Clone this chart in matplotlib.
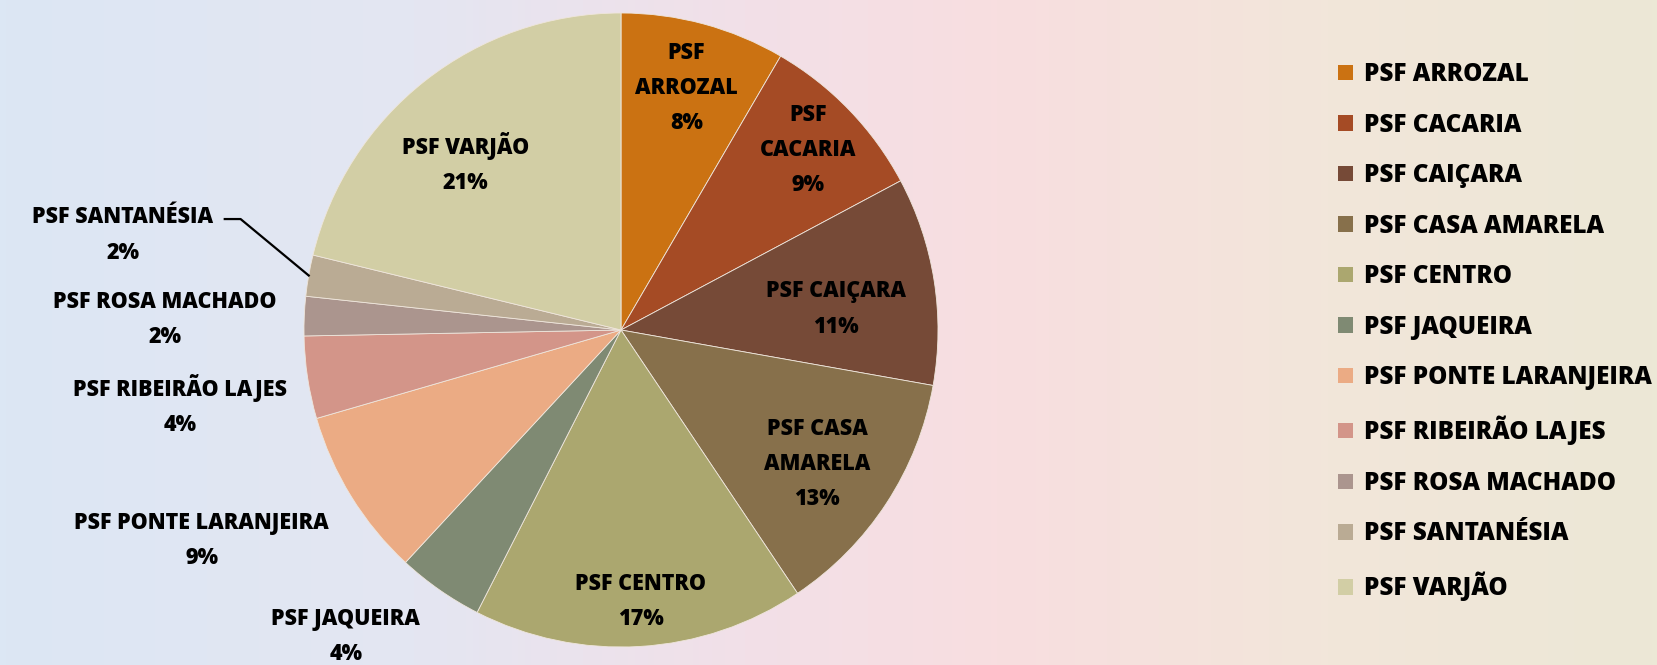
import matplotlib.pyplot as plt
import numpy as np
from matplotlib.colors import LinearSegmentedColormap
from matplotlib.patches import Patch

plt.rcParams['font.family'] = ['Open Sans', 'DejaVu Sans']

# data
units = ["PSF ARROZAL", "PSF CACARIA", "PSF CAIÇARA", "PSF CASA AMARELA", "PSF CENTRO",
         "PSF JAQUEIRA", "PSF PONTE LARANJEIRA", "PSF RIBEIRÃO LAJES", "PSF ROSA MACHADO",
         "PSF SANTANÉSIA", "PSF VARJÃO"]
shares = [8.4, 8.8, 10.6, 12.8, 16.9, 4.4, 8.6, 4.2, 2.0, 2.1, 21.2]
slice_labels = ["PSF\nARROZAL", "PSF\nCACARIA", "PSF CAIÇARA", "PSF CASA\nAMARELA", "PSF CENTRO",
                "PSF JAQUEIRA", "PSF PONTE LARANJEIRA", "PSF RIBEIRÃO LAJES", "PSF ROSA MACHADO",
                "PSF SANTANÉSIA", "PSF VARJÃO"]
colors = ["#CB7212", "#A54B25", "#764A37", "#87704B", "#ABA76F", "#7F8A73",
          "#EBAB84", "#D39589", "#AB958E", "#BAAB94", "#D2CEA5"]
# label placement: distance from centre (radii) and angle nudge (deg, clockwise)
label_r = [0.79, 0.82, 0.68, 0.75, 0.86, 1.30, 1.48, 1.41, 1.44, 1.6, 0.72]
label_nudge = [0, 0, 3.4, 1.2, -0.7, 7.0, 5.0, -1.1, -1.2, 0.9, -4.9]

W, H = 1658, 665
R = 317.0
cx, cy = 621.0, 330.0

fig = plt.figure(figsize=(W / 100, H / 100), dpi=100)
ax = fig.add_axes([0, 0, 1, 1])

# soft washed-out background
bg = LinearSegmentedColormap.from_list("bg", [(0.0, "#DCE7F4"), (0.25, "#E4E6F2"),
                                             (0.45, "#F2E0E8"), (0.6, "#F8DEE0"),
                                             (0.8, "#F2E6DA"), (1.0, "#ECE8D6")])
grad = np.linspace(0, 1, 256)[None, :]
ax.imshow(grad, cmap=bg, extent=[-cx / R, (W - cx) / R, -(H - cy) / R, cy / R],
          aspect='auto', zorder=0)

wedges, _ = ax.pie(shares, colors=colors, startangle=90, counterclock=False,
                   radius=1.0, center=(0, 0), frame=True,
                   wedgeprops=dict(edgecolor="#EFE6DC", linewidth=0.6, zorder=2))
ax.set_xlim(-cx / R, (W - cx) / R)
ax.set_ylim(-(H - cy) / R, cy / R)
ax.set_aspect('auto')
ax.axis('off')

total = sum(shares)
for w, lab, v, r, nd in zip(wedges, slice_labels, shares, label_r, label_nudge):
    mid = np.deg2rad((w.theta1 + w.theta2) / 2 - nd)
    x, y = r * np.cos(mid), r * np.sin(mid)
    ax.text(x, y, f"{lab}\n{round(v / total * 100):.0f}%", ha='center', va='center',
            fontsize=15.5, fontweight='heavy', linespacing=1.62, color='black', zorder=4)

# leader line for the small Santanésia slice
w = wedges[9]
mid = np.deg2rad((w.theta1 + w.theta2) / 2)
ex, ey = np.cos(mid), np.sin(mid)
ax.plot([-1.25, -1.2, ex], [0.35, 0.35, ey], color='black', lw=1.6, zorder=3)

handles = [Patch(facecolor=c, edgecolor='none') for c in colors]
fig.legend(handles, units, loc='upper left', bbox_to_anchor=(1326 / W, 1 - 50 / H),
           frameon=False, prop=dict(weight='heavy', size=17.5),
           handlelength=0.6, handleheight=0.6, handletextpad=0.45,
           labelspacing=1.05, borderpad=0)

fig.savefig("out.png", dpi=100)
